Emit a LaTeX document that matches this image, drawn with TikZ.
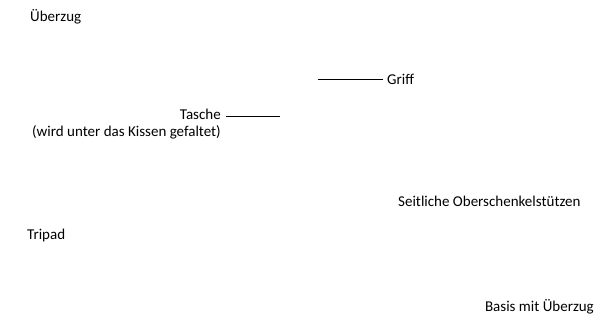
\documentclass[tikz,border=0pt]{standalone}
\usepackage{fontspec}
\setmainfont{Carlito}
\usepackage{tikz}
\usetikzlibrary{positioning}

\begin{document}
\begin{tikzpicture}[
    x=1pt, y=-1pt,
    lbl/.style={inner sep=0pt, font=\fontsize{15}{16.5}\selectfont},
    lead/.style={draw=black, line width=0.9pt},
]
\useasboundingbox (0,0) rectangle (600,321);

\node[lbl, anchor=west] (ueberzug) at (30,17) {Überzug};

% Griff with leader line
\node[lbl, anchor=west] (griff) at (387,79) {Griff};
\coordinate (griffend) at (318,79);
\draw[lead] (griff.west) ++(-4,0) coordinate (griffstart) -- (griffend);

% Tasche with leader line
\node[lbl, anchor=east, align=right] (tasche) at (221,124)
    {Tasche\\(wird unter das Kissen gefaltet)};
\coordinate (taschestart) at (226,116);
\coordinate (taschend) at (280,116);
\draw[lead] (taschestart) -- (taschend);

\node[lbl, anchor=west] (stuetzen) at (398,201) {Seitliche Oberschenkelstützen};
\node[lbl, anchor=west] (tripad) at (27,236) {Tripad};
\node[lbl, anchor=east] (basis) at (594,307) {Basis mit Überzug};
\end{tikzpicture}
\end{document}
